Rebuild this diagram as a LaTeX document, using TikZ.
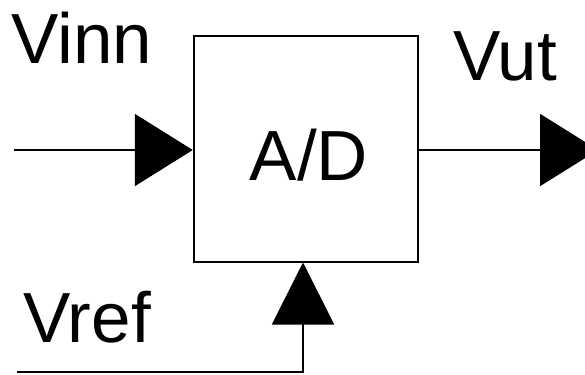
\documentclass[tikz,border=0pt]{standalone}
\usepackage{fontspec}
\setmainfont{Liberation Sans}
\usetikzlibrary{arrows.meta}
\begin{document}
\begin{tikzpicture}[x=1bp,y=-1bp,
  wire/.style={line width=2bp,black},
  lbl/.style={inner sep=0pt,anchor=base west,font=\fontsize{71bp}{80bp}\selectfont},
  tipH/.style={-{Triangle[length=58bp,width=72bp]}},
  tipV/.style={-{Triangle[length=62bp,width=62bp]}}]
\useasboundingbox (0,0) rectangle (585,374);
\node[draw,line width=2bp,minimum width=224bp,minimum height=226bp,inner sep=0pt] (box) at (305.75,148.5) {};
\node[inner sep=0pt,anchor=base,font=\fontsize{71bp}{80bp}\selectfont] (ad) at (309,180) {A/D};
\node[lbl] (vinn) at (11,63) {Vinn};
\node[lbl] (vut) at (453,80) {Vut};
\node[lbl] (vref) at (23,342) {Vref};
\coordinate (in) at (14,150);
\coordinate (out) at (598,150);
\coordinate (vr) at (17,372);
\coordinate (vtop) at ([xshift=-2.75bp]box.south);
\draw[wire,tipH] (in) -- (in -| box.west);
\draw[wire,tipH] (box.east |- out) -- (out);
\draw[wire,tipV] (vr) -| (vtop);
\end{tikzpicture}
\end{document}
